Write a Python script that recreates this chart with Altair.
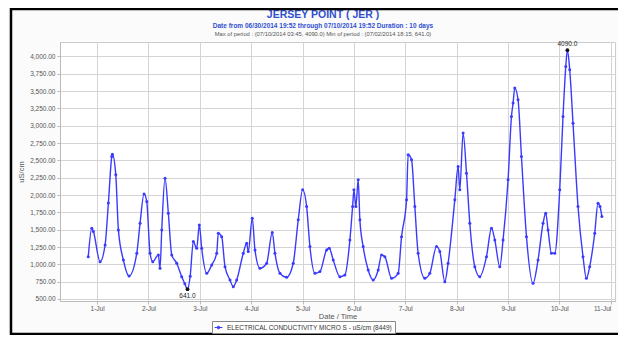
import altair as alt
import pandas as pd

# hours after 2014-07-01 00:00, and EC readings (uS/cm)
hours = [-4.13, -2.47, -1.73, 1.40, 3.74, 5.28, 6.86, 7.14, 8.73, 9.95, 12.28, 14.94,
         18.54, 20.08, 21.94, 23.20, 24.75, 26.01, 28.62, 29.41, 30.21, 31.75, 33.29,
         34.88, 37.21, 39.55, 41.0, 42.25, 43.5, 44.96, 46.55, 47.76, 48.88, 51.22,
         53.56, 55.89, 56.64, 58.22, 59.76, 62.10, 63.64, 65.23, 68.31, 69.90, 70.64,
         72.51, 73.77, 76.10, 79.23, 81.85, 83.11, 85.44, 88.57, 91.65, 93.99, 96.04,
         97.91, 99.45, 101.78, 104.12, 107.25, 108.46, 110.33, 113.46, 115.79, 118.13,
         119.39, 120.00, 120.93, 122.00, 122.79, 124.33, 126.67, 129.00, 131.34, 132.92,
         134.47, 137.60, 140.68, 142.26, 144.60, 145.35, 146.93, 148.47, 150.01, 153.14,
         155.48, 158.60, 160.15, 162.48, 164.02, 167.15, 168.69, 169.48, 171.02, 172.61,
         174.15, 176.49, 178.82, 181.95, 184.29, 185.83, 188.16, 189.70, 192.04, 193.62,
         194.37, 195.16, 196.70, 198.29, 200.63, 203.71, 206.04, 208.38, 209.64, 210.71,
         212.30, 213.84, 216.17, 217.71, 219.0, 219.75, 220.84, 222.38, 224.72, 227.05,
         228.64, 230.18, 232.52, 234.06, 235.0, 235.87]
values = [1111, 1521, 1473, 1039, 1280, 1887, 2556, 2590, 2292, 1497, 1063, 832,
          1160, 1594, 2017, 1906, 1160, 1039, 1136, 944, 1497, 2244, 1738,
          1136, 1016, 820, 720, 641, 830, 1328, 1232, 1569, 1232, 871,
          991, 1160, 1449, 1400, 967, 775, 678, 775, 1160, 1305, 1184,
          1666, 1208, 944, 1016, 1458, 1160, 871, 813, 1016, 1642, 2075,
          1834, 1256, 871, 895, 1208, 1232, 1063, 822, 847, 1353,
          1834, 2075, 1834, 2220, 1642, 1256, 919, 775, 919, 1136,
          1111, 799, 871, 1400, 1931, 2581, 2509, 1834, 1160, 799,
          871, 1256, 1184, 750, 1016, 1931, 2412, 2075, 2894, 2316,
          1594, 967, 822, 1111, 1521, 1353, 967, 1353, 2220, 3134,
          3327, 3544, 3376, 2556, 1400, 727, 1063, 1594, 1738, 1497,
          1160, 1160, 2075, 3134, 3857, 4090, 3808, 3038, 1834, 1111,
          799, 967, 1449, 1882, 1834, 1690]

series_name = "ELECTRICAL CONDUCTIVITY MICRO S - uS/cm (8449)"
y_ticks = [500, 750, 1000, 1250, 1500, 1750, 2000, 2250, 2500, 2750, 3000, 3250, 3500, 3750, 4000]
x_tick_days = [1, 2, 3, 4, 5, 6, 7, 8, 9, 10, 11]
title_lines = ["JERSEY POINT ( JER )",
               "Date from 06/30/2014 19:52 through 07/10/2014 19:52 Duration : 10 days",
               "Max of period : (07/10/2014 03:45, 4090.0)   Min of period : (07/02/2014 18:15, 641.0)"]

t0 = pd.Timestamp("2014-07-01 00:00")
times = [(t0 + pd.Timedelta(hours=h)).strftime("%Y-%m-%dT%H:%M:%S") for h in hours]
df = pd.DataFrame({"time": times, "ec": values, "series": series_name})

imax = values.index(max(values))
imin = values.index(min(values))
ext = pd.DataFrame({"time": [times[imax], times[imin]],
                    "ec": [values[imax], values[imin]],
                    "label": [f"{values[imax]:.1f}", f"{values[imin]:.1f}"]})

FONT = "Liberation Sans"
BLUE = "#3a3aff"
TBLUE = "#3050d0"

x_enc = alt.X("time:T",
              scale=alt.Scale(domain=[alt.DateTime(year=2014, month=6, date=30, hours=6, minutes=40),
                                      alt.DateTime(year=2014, month=7, date=11, hours=2)], nice=False),
              axis=alt.Axis(values=[alt.DateTime(year=2014, month=7, date=d) for d in x_tick_days],
                            format="%-d-%b", title="Date / Time", labelAngle=0,
                            labelFlush=8, titlePadding=1, labelPadding=1))
y_enc = alt.Y("ec:Q",
              scale=alt.Scale(domain=[471, 4209], nice=False, zero=False),
              axis=alt.Axis(values=y_ticks, format=",.2f", title="uS/cm", titlePadding=4,
                            labelOverlap=False, tickCount=15))

legend_symbol = "M-1,0H1M0,-0.35A0.35,0.35,0,1,1,0,0.35A0.35,0.35,0,1,1,0,-0.35Z"

line = alt.Chart(df).mark_line(strokeWidth=1.4, interpolate="monotone").encode(
    x=x_enc, y=y_enc,
    color=alt.Color("series:N", scale=alt.Scale(range=[BLUE]),
                    legend=alt.Legend(title=None, orient="none", legendX=152, legendY=279,
                                      direction="horizontal", strokeColor="#888888",
                                      fillColor="white", padding=2, labelLimit=400,
                                      labelFontSize=6.5, labelFont=FONT, labelColor="#333333",
                                      symbolType=legend_symbol, symbolSize=60,
                                      symbolFillColor=BLUE, symbolStrokeColor=BLUE,
                                      symbolStrokeWidth=1)))
pts = alt.Chart(df).mark_point(filled=True, size=9, opacity=1).encode(
    x=x_enc, y=y_enc, color=alt.Color("series:N", legend=None))

ext_pts = alt.Chart(ext).mark_point(filled=True, size=14, color="#111111", opacity=1).encode(
    x=x_enc, y=y_enc)
ext_max = alt.Chart(ext.iloc[[0]]).mark_text(fontSize=6.5, font=FONT, color="#222222", dy=-6).encode(
    x=x_enc, y=y_enc, text="label:N")
ext_min = alt.Chart(ext.iloc[[1]]).mark_text(fontSize=6.5, font=FONT, color="#222222", dy=7).encode(
    x=x_enc, y=y_enc, text="label:N")

t1 = alt.Chart(alt.Data(values=[{}])).mark_text(
    text=title_lines[0], fontSize=10.5, fontWeight="bold", font=FONT, color=TBLUE,
    baseline="middle", align="center").encode(x=alt.value(263), y=alt.value(-27))
t2 = alt.Chart(alt.Data(values=[{}])).mark_text(
    text=title_lines[1], fontSize=6.5, fontWeight="bold", font=FONT, color=TBLUE,
    baseline="middle", align="center").encode(x=alt.value(263), y=alt.value(-16))
t3 = alt.Chart(alt.Data(values=[{}])).mark_text(
    text=title_lines[2], fontSize=5.8, font=FONT, color="#555555",
    baseline="middle", align="center").encode(x=alt.value(263), y=alt.value(-8))

frame = alt.Chart(alt.Data(values=[{}])).mark_rect(fill=None, stroke="#000000", strokeWidth=2.5).encode(
    x=alt.value(-49), x2=alt.value(600), y=alt.value(-33), y2=alt.value(292))

chart = alt.layer(line, pts, ext_pts, ext_max, ext_min, t1, t2, t3, frame).properties(
    width=555, height=259,
    autosize=alt.AutoSizeParams(type="none"),
    padding={"left": 52, "top": 34, "right": 3, "bottom": 34},
    background="#fbfbfb",
).configure_view(
    fill="white", stroke="#cccccc"
).configure_axis(
    labelFont=FONT, labelFontSize=6.5, labelColor="#555555",
    titleFont=FONT, titleFontSize=7.5, titleFontWeight="normal", titleColor="#555555",
    gridColor="#d4d4d4", gridWidth=1, domainColor="#bbbbbb", tickColor="#bbbbbb",
    tickSize=3, labelPadding=2
).configure_axisY(
    labelOverlap=False
)

chart.save("out.html", embed_options={"renderer": "svg", "actions": False})
